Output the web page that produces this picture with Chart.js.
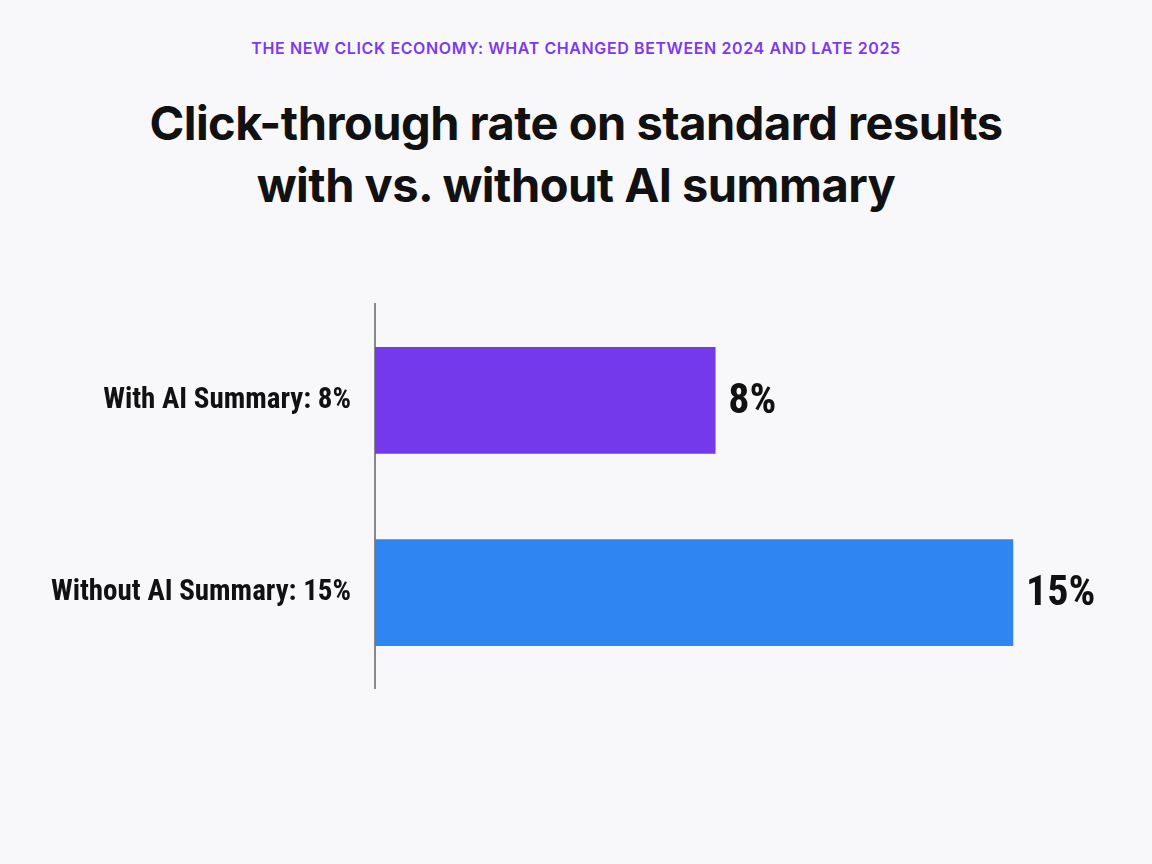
<!DOCTYPE html>
<html><head><meta charset="utf-8">
<script src="https://cdn.jsdelivr.net/npm/chart.js@4"></script>
<style>
body{margin:0;background:#f8f8fa;width:1152px;height:864px;overflow:hidden;font-family:Inter,"Noto Sans",sans-serif;}
.kicker{position:absolute;top:38px;width:100%;text-align:center;color:#7c3aed;font-weight:600;font-size:16px;letter-spacing:0.6px;}
h1{position:absolute;top:92px;width:100%;margin:0;text-align:center;font-size:47px;line-height:62px;font-weight:700;color:#111;letter-spacing:-0.5px;}
#c{position:absolute;left:0;top:263px;}
</style></head><body>
<div class="kicker">THE NEW CLICK ECONOMY: WHAT CHANGED BETWEEN 2024 AND LATE 2025</div>
<h1>Click-through rate on standard results<br>with vs. without AI summary</h1>
<canvas id="c" width="1152" height="467"></canvas>
<script>
const categories = ['With AI Summary: 8%', 'Without AI Summary: 15%'];
const values = [8, 15];
const valueLabels = ['8%', '15%'];
const colors = ['#7339ea', '#2f86f3'];
const narrow = '"Liberation Sans Narrow", "Roboto Condensed", Roboto, sans-serif';

const valueLabelPlugin = {
  id: 'valueLabels',
  afterDatasetsDraw(chart) {
    const ctx = chart.ctx;
    chart.getDatasetMeta(0).data.forEach((bar, i) => {
      ctx.save();
      ctx.font = 'bold 42px ' + narrow;
      ctx.fillStyle = '#111';
      ctx.textBaseline = 'middle';
      ctx.fillText(valueLabels[i], bar.x + 13, bar.y + 2);
      ctx.restore();
    });
  }
};

new Chart(document.getElementById('c'), {
  type: 'bar',
  data: {
    labels: categories,
    datasets: [{ data: values, backgroundColor: colors, barThickness: 106 }]
  },
  options: {
    indexAxis: 'y',
    responsive: false,
    animation: false,
    layout: { padding: { right: 54, left: 0, top: 0, bottom: 0 } },
    plugins: { legend: { display: false }, tooltip: { enabled: false } },
    scales: {
      x: { display: false, min: 0, max: 17 },
      y: {
        afterFit: s => { s.width = 375; },
        grid: { display: false, drawTicks: false },
        border: { display: true, color: '#888', width: 2 },
        ticks: { color: '#111', padding: 24, font: { size: 29, weight: 'bold', family: narrow } }
      }
    }
  },
  plugins: [valueLabelPlugin]
});
</script>
</body></html>
